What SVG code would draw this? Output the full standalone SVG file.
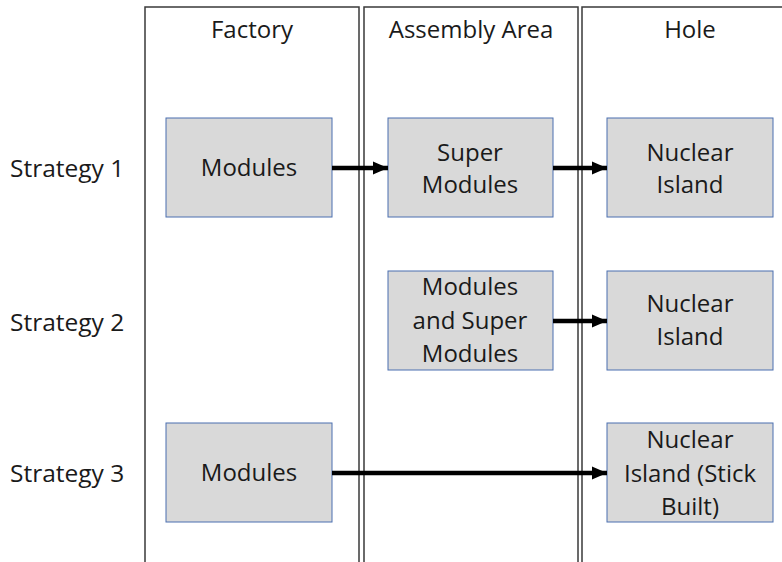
<svg xmlns="http://www.w3.org/2000/svg" width="782" height="562" viewBox="0 0 782 562">
<style>
.col{fill:none;stroke:#3a3a3a;stroke-width:1.5}
.box{fill:#d9d9d9;stroke:#4a6fb0;stroke-width:1}
text{font-family:"Open Sans","Noto Sans",sans-serif;font-size:24px;fill:#1a1a1a}
.s{font-size:24.5px}
.c{text-anchor:middle}
.conn{stroke:#000;stroke-width:4.5;fill:none}
</style>
<defs>
<marker id="ah" markerUnits="userSpaceOnUse" markerWidth="16" markerHeight="14" refX="15" refY="7" orient="auto">
<polygon points="0,0.5 15,7 0,13.5" fill="#000"/>
</marker>
</defs>
<rect width="782" height="562" fill="#fff"/>
<g id="columns">
<rect class="col" x="145" y="7" width="214" height="560"/>
<rect class="col" x="364" y="7" width="214" height="560"/>
<rect class="col" x="582" y="7" width="205" height="560"/>
<text class="c" x="252" y="38">Factory</text>
<text class="c" x="471" y="38">Assembly Area</text>
<text class="c" x="690" y="38">Hole</text>
</g>
<g id="labels">
<text class="s" x="10" y="177">Strategy 1</text>
<text class="s" x="10" y="331">Strategy 2</text>
<text class="s" x="10" y="482">Strategy 3</text>
</g>
<g id="n1"><rect class="box" x="166" y="118" width="166" height="99"/><text class="c" x="249" y="176">Modules</text></g>
<g id="n2"><rect class="box" x="388" y="118" width="165" height="99"/><text class="c" x="470" y="161">Super</text><text class="c" x="470" y="193">Modules</text></g>
<g id="n3"><rect class="box" x="607" y="118" width="166" height="99"/><text class="c" x="690" y="161">Nuclear</text><text class="c" x="690" y="193">Island</text></g>
<g id="n4"><rect class="box" x="388" y="271" width="165" height="99"/><text class="c" x="470" y="295">Modules</text><text class="c" x="470" y="329">and Super</text><text class="c" x="470" y="362">Modules</text></g>
<g id="n5"><rect class="box" x="607" y="271" width="166" height="99"/><text class="c" x="690" y="312">Nuclear</text><text class="c" x="690" y="345">Island</text></g>
<g id="n6"><rect class="box" x="166" y="423" width="166" height="99"/><text class="c" x="249" y="481">Modules</text></g>
<g id="n7"><rect class="box" x="607" y="423" width="166" height="99"/><text class="c" x="690" y="448">Nuclear</text><text class="c" x="690" y="482">Island (Stick</text><text class="c" x="690" y="515">Built)</text></g>
<g id="connectors">
<line class="conn" x1="332" y1="168" x2="388" y2="168" marker-end="url(#ah)"/>
<line class="conn" x1="553" y1="168" x2="607" y2="168" marker-end="url(#ah)"/>
<line class="conn" x1="553" y1="321" x2="607" y2="321" marker-end="url(#ah)"/>
<line class="conn" x1="332" y1="473" x2="607" y2="473" marker-end="url(#ah)"/>
</g>
</svg>
